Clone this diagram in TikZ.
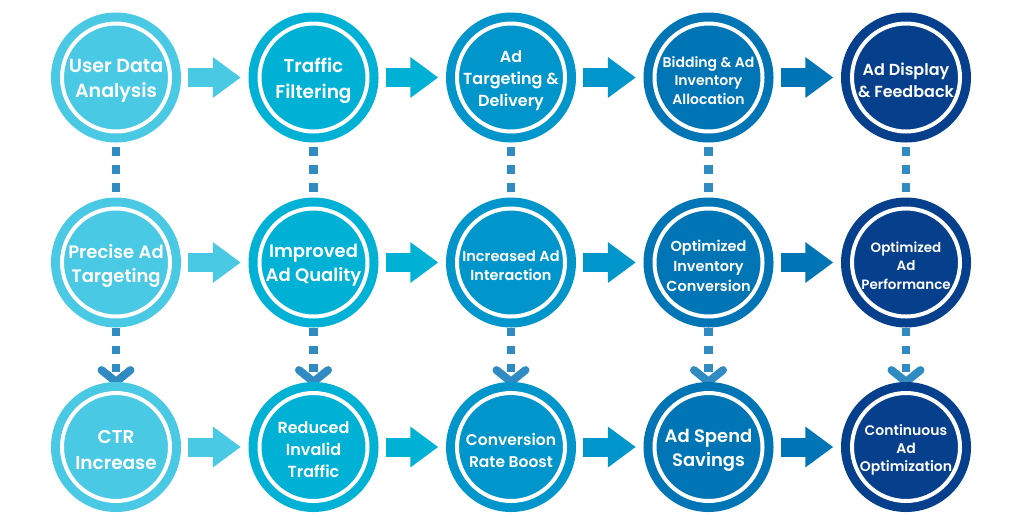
\documentclass[tikz,border=0pt]{standalone}
\usepackage{fontspec}
\newfontfamily\labelfont{Poppins SemiBold}
\usetikzlibrary{arrows.meta,backgrounds}

\definecolor{colA}{HTML}{49C9E4}
\definecolor{colB}{HTML}{00B1D6}
\definecolor{colC}{HTML}{0096CB}
\definecolor{colD}{HTML}{0075B5}
\definecolor{colE}{HTML}{063F8B}
\definecolor{dotcol}{HTML}{2F8BC1}

\begin{document}
\begin{tikzpicture}[x=1pt,y=-1pt,
  stage/.style={circle,minimum size=130pt,inner sep=0pt,fill=#1,
    path picture={\draw[white,line width=4pt] (path picture bounding box.center) circle (54pt);}},
  sz/.style 2 args={text=white,align=center,inner sep=0pt,yshift=-3pt,
    font=\labelfont\fontsize{#1}{#2}\selectfont},
  flow/.style={line width=19pt,-{Triangle[length=28pt,width=39pt]}},
  dots/.style={dotcol,line width=8.5pt,dash pattern=on 8.5pt off 9.5pt},
  chev/.style={dotcol,line width=8pt,line cap=round,line join=round}]

\useasboundingbox (0,0) rectangle (1024,531);

\node[stage=colA,label={[sz={19}{25}]center:User Data\\Analysis}] (a1) at (116,77.5) {};
\node[stage=colB,label={[sz={18.5}{26}]center:Traffic\\Filtering}] (b1) at (313.5,77.5) {};
\node[stage=colC,label={[sz={16}{22}]center:Ad\\Targeting \&\\Delivery}] (c1) at (511,77.5) {};
\node[stage=colD,label={[sz={14}{18.5}]center:Bidding \& Ad\\Inventory\\Allocation}] (d1) at (708.5,77.5) {};
\node[stage=colE,label={[sz={16}{22}]center:Ad Display\\\& Feedback}] (e1) at (906,77.5) {};

\node[stage=colA,label={[sz={18}{24}]center:Precise Ad\\Targeting}] (a2) at (116,262.5) {};
\node[stage=colB,label={[sz={18}{24}]center:Improved\\Ad Quality}] (b2) at (313.5,262.5) {};
\node[stage=colC,label={[sz={14.5}{19}]center:Increased Ad\\Interaction}] (c2) at (511,262.5) {};
\node[stage=colD,label={[sz={14.5}{20}]center:Optimized\\Inventory\\Conversion}] (d2) at (708.5,262.5) {};
\node[stage=colE,label={[sz={13.5}{18.5}]center:Optimized\\Ad\\Performance}] (e2) at (906,262.5) {};

\node[stage=colA,label={[sz={18.5}{26}]center:CTR\\Increase}] (a3) at (116,447) {};
\node[stage=colB,label={[sz={16}{22}]center:Reduced\\Invalid\\Traffic}] (b3) at (313.5,447) {};
\node[stage=colC,label={[sz={15.5}{22}]center:Conversion\\Rate Boost}] (c3) at (511,447) {};
\node[stage=colD,label={[sz={18}{24}]center:Ad Spend\\Savings}] (d3) at (708.5,447) {};
\node[stage=colE,label={[sz={14}{18}]center:Continuous\\Ad\\Optimization}] (e3) at (906,447) {};

% arrows along the rows
\draw[flow,colA] ([shift={(7,0)}]a1.east) -- ([shift={(-7.5,0)}]b1.west);
\draw[flow,colB] ([shift={(7,0)}]b1.east) -- ([shift={(-7.5,0)}]c1.west);
\draw[flow,colC] ([shift={(7,0)}]c1.east) -- ([shift={(-7.5,0)}]d1.west);
\draw[flow,colD] ([shift={(7,0)}]d1.east) -- ([shift={(-7.5,0)}]e1.west);
\draw[flow,colA] ([shift={(7,0)}]a2.east) -- ([shift={(-7.5,0)}]b2.west);
\draw[flow,colB] ([shift={(7,0)}]b2.east) -- ([shift={(-7.5,0)}]c2.west);
\draw[flow,colC] ([shift={(7,0)}]c2.east) -- ([shift={(-7.5,0)}]d2.west);
\draw[flow,colD] ([shift={(7,0)}]d2.east) -- ([shift={(-7.5,0)}]e2.west);
\draw[flow,colA] ([shift={(7,0)}]a3.east) -- ([shift={(-7.5,0)}]b3.west);
\draw[flow,colB] ([shift={(7,0)}]b3.east) -- ([shift={(-7.5,0)}]c3.west);
\draw[flow,colC] ([shift={(7,0)}]c3.east) -- ([shift={(-7.5,0)}]d3.west);
\draw[flow,colD] ([shift={(7,0)}]d3.east) -- ([shift={(-7.5,0)}]e3.west);

% dotted links down the columns
\begin{scope}[on background layer]
\draw[dots] ([shift={(0,4.5)}]a1.south) -- (a2.north);
\draw[dots] ([shift={(0,4.5)}]b1.south) -- (b2.north);
\draw[dots] ([shift={(0,4.5)}]c1.south) -- (c2.north);
\draw[dots] ([shift={(0,4.5)}]d1.south) -- (d2.north);
\draw[dots] ([shift={(0,4.5)}]e1.south) -- (e2.north);

\draw[dots] (a2.south) -- (a3.north);
\draw[dots] (b2.south) -- (b3.north);
\draw[dots] (c2.south) -- (c3.north);
\draw[dots] (d2.south) -- (d3.north);
\draw[dots] (e2.south) -- (e3.north);

\draw[chev] ([shift={(-14.5,-11.7)}]a3.north) -- (a3.north) -- ([shift={(14.5,-11.7)}]a3.north);
\draw[chev] ([shift={(-14.5,-11.7)}]b3.north) -- (b3.north) -- ([shift={(14.5,-11.7)}]b3.north);
\draw[chev] ([shift={(-14.5,-11.7)}]c3.north) -- (c3.north) -- ([shift={(14.5,-11.7)}]c3.north);
\draw[chev] ([shift={(-14.5,-11.7)}]d3.north) -- (d3.north) -- ([shift={(14.5,-11.7)}]d3.north);
\draw[chev] ([shift={(-14.5,-11.7)}]e3.north) -- (e3.north) -- ([shift={(14.5,-11.7)}]e3.north);
\end{scope}
\end{tikzpicture}
\end{document}
